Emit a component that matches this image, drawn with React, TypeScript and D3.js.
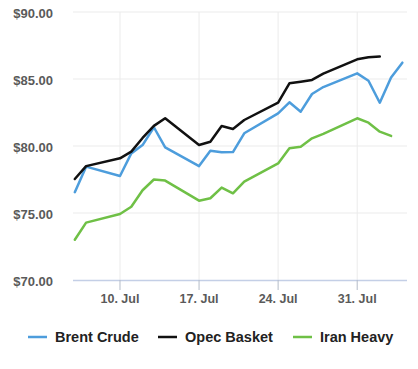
import React, { useEffect, useRef } from "react";
import * as d3 from "d3";

// trading days, July 6 - August 4
const dates: string[] = [
  "2023-07-06", "2023-07-07", "2023-07-10", "2023-07-11", "2023-07-12",
  "2023-07-13", "2023-07-14", "2023-07-17", "2023-07-18", "2023-07-19",
  "2023-07-20", "2023-07-21", "2023-07-24", "2023-07-25", "2023-07-26",
  "2023-07-27", "2023-07-28", "2023-07-31", "2023-08-01", "2023-08-02",
  "2023-08-03", "2023-08-04",
];

const brentCrude: (number | null)[] = [
  76.55, 78.46, 77.76, 79.45, 80.07, 81.4, 79.9, 78.5, 79.65, 79.53, 79.55,
  80.95, 82.44, 83.26, 82.56, 83.88, 84.4, 85.42, 84.87, 83.23, 85.12, 86.22,
];

const opecBasket: (number | null)[] = [
  77.54, 78.5, 79.08, 79.58, 80.6, 81.5, 82.07, 80.07, 80.32, 81.49, 81.27,
  81.94, 83.23, 84.68, 84.8, 84.93, 85.4, 86.47, 86.62, 86.67, null, null,
];

const iranHeavy: (number | null)[] = [
  73.0, 74.28, 74.93, 75.47, 76.7, 77.5, 77.42, 75.92, 76.1, 76.9, 76.47,
  77.34, 78.7, 79.83, 79.95, 80.57, 80.9, 82.07, 81.74, 81.07, 80.75, null,
];

const seriesNames = ["Brent Crude", "Opec Basket", "Iran Heavy"];
const seriesColors = ["#4d9ddc", "#111111", "#6fc046"];
const yTicks = [70, 75, 80, 85, 90];
const xTickDates = ["2023-07-10", "2023-07-17", "2023-07-24", "2023-07-31"];

const width = 418;
const height = 369;

function App() {
  const ref = useRef<SVGSVGElement>(null);

  useEffect(() => {
    drawChart();
  }, []);

  function drawChart() {
    const svg = d3.select(ref.current);
    svg.selectAll("*").remove();

    const parse = d3.utcParse("%Y-%m-%d");
    const day = 24 * 3600 * 1000;
    const first = parse(dates[0])!.getTime();
    const last = parse(dates[dates.length - 1])!.getTime();

    const x = d3
      .scaleUtc()
      .domain([new Date(first - 0.16 * day), new Date(last + 0.41 * day)])
      .range([73, 407]);
    const y = d3.scaleLinear().domain([70, 90]).range([280, 12]);

    svg.append("rect").attr("width", width).attr("height", height).attr("fill", "#fff");

    // grid
    svg
      .append("g")
      .selectAll("line")
      .data(yTicks.filter((t) => t !== 70))
      .enter()
      .append("line")
      .attr("x1", 73)
      .attr("x2", 407)
      .attr("y1", (d) => y(d))
      .attr("y2", (d) => y(d))
      .attr("stroke", "#ebebeb")
      .attr("stroke-width", 1);

    svg
      .append("g")
      .selectAll("line")
      .data(xTickDates)
      .enter()
      .append("line")
      .attr("x1", (d) => x(parse(d)!))
      .attr("x2", (d) => x(parse(d)!))
      .attr("y1", 12)
      .attr("y2", 280)
      .attr("stroke", "#ebebeb")
      .attr("stroke-width", 1);

    // y labels
    svg
      .append("g")
      .selectAll("text")
      .data(yTicks)
      .enter()
      .append("text")
      .attr("x", 53)
      .attr("y", (d) => y(d) + 1)
      .attr("text-anchor", "end")
      .attr("dominant-baseline", "central")
      .style("font-family", "Arial, 'Liberation Sans', sans-serif")
      .style("font-size", "13px")
      .style("font-weight", "bold")
      .style("fill", "#5a5a5a")
      .text((d) => "$" + d3.format(".2f")(d));

    // x axis
    svg
      .append("line")
      .attr("x1", 73)
      .attr("x2", 407)
      .attr("y1", 280.5)
      .attr("y2", 280.5)
      .attr("stroke", "#c4cfe6")
      .attr("stroke-width", 1.5);

    const xt = svg.append("g").selectAll("g").data(xTickDates).enter().append("g");
    xt.append("line")
      .attr("x1", (d) => x(parse(d)!))
      .attr("x2", (d) => x(parse(d)!))
      .attr("y1", 280)
      .attr("y2", 290)
      .attr("stroke", "#b4bcc8")
      .attr("stroke-width", 1);
    xt.append("text")
      .attr("x", (d) => x(parse(d)!))
      .attr("y", 303)
      .attr("text-anchor", "middle")
      .style("font-family", "Arial, 'Liberation Sans', sans-serif")
      .style("font-size", "12.5px")
      .style("font-weight", "bold")
      .style("fill", "#5a5a5a")
      .text((d) => d3.utcFormat("%-d. %b")(parse(d)!));

    // lines
    const allSeries = [brentCrude, opecBasket, iranHeavy];
    const line = d3
      .line<[Date, number | null]>()
      .defined((d) => d[1] !== null)
      .x((d) => x(d[0]))
      .y((d) => y(d[1] as number));

    allSeries.forEach((values, i) => {
      const pts: [Date, number | null][] = dates.map((d, j) => [parse(d)!, values[j]]);
      svg
        .append("path")
        .attr("d", line(pts))
        .attr("fill", "none")
        .attr("stroke", seriesColors[i])
        .attr("stroke-width", 2.5)
        .attr("stroke-linejoin", "round")
        .attr("stroke-linecap", "round");
    });

    // legend
    const legendX = [28, 158, 293];
    const legend = svg
      .append("g")
      .selectAll("g")
      .data(seriesNames)
      .enter()
      .append("g")
      .attr("transform", (d, i) => `translate(${legendX[i]}, 337)`);
    legend
      .append("line")
      .attr("x1", 0)
      .attr("x2", 19)
      .attr("y1", 0)
      .attr("y2", 0)
      .attr("stroke", (d, i) => seriesColors[i])
      .attr("stroke-width", 2.5);
    legend
      .append("text")
      .attr("x", 27)
      .attr("y", 0)
      .attr("dominant-baseline", "central")
      .style("font-family", "Arial, 'Liberation Sans', sans-serif")
      .style("font-size", "14.5px")
      .style("font-weight", "bold")
      .style("fill", "#222")
      .text((d) => d);
  }

  return (
    <svg
      ref={ref}
      width={width}
      height={height}
      style={{ position: "absolute", left: 0, top: 0 }}
    />
  );
}

export default App;
